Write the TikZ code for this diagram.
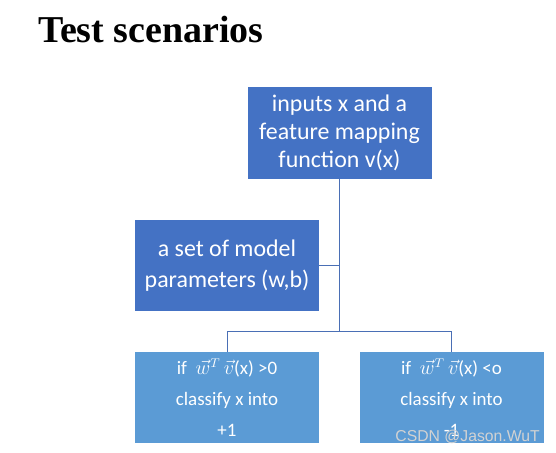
\documentclass[tikz,border=0pt]{standalone}
\usepackage{fontspec}
\setmainfont{Carlito}
\newfontfamily\titlefont{Liberation Serif}
\newfontfamily\markfont{Liberation Sans}
\usetikzlibrary{positioning}
\definecolor{darkbox}{HTML}{4472C4}
\definecolor{lightbox}{HTML}{5B9BD5}
\definecolor{linkcol}{HTML}{4A6FB5}

\begin{document}
\begin{tikzpicture}[
    box/.style={text=white, align=center, inner sep=0pt, minimum width=4.6cm, minimum height=2.28cm},
    upperbox/.style={box, fill=darkbox, font=\fontsize{17}{20}\selectfont},
    lowerbox/.style={box, fill=lightbox, font=\fontsize{13.5}{22}\selectfont},
    link/.style={draw=linkcol, line width=0.6pt}
  ]
    \useasboundingbox (0,0) rectangle (13.9,11.325);
    % Title
    \node[anchor=base west, inner sep=0pt, font=\titlefont\bfseries\fontsize{27}{30}\selectfont] (title) at (0.95,10.26) {Test scenarios};

    % Boxes
    \node[upperbox] (inputs) at (8.4875,8.0) {inputs x and a\\feature mapping\\function v(x)};
    \node[upperbox, font=\fontsize{17}{22.5}\selectfont] (params) at (5.675,4.6875) {a set of model\\parameters (w,b)};
    \node[lowerbox] (pos) at (5.675,1.3875) {if\ \ $\vec{w}^{T}\,\vec{v}$(x) >0\\classify x into\\+1};
    \node[lowerbox] (neg) at (11.2875,1.3875) {if\ \ $\vec{w}^{T}\,\vec{v}$(x) <o\\classify x into\\-1};

    % Connectors
    \coordinate (split) at (inputs.south |- 0,3.05);
    \draw[link] (inputs.south) -- (split);
    \draw[link] (params.east) -- (params.east -| split);
    \draw[link] (pos.north) |- (split) -| (neg.north);

    % Watermark
    \node[text=gray!35, font=\markfont\fontsize{11.2}{12}\selectfont] (mark) at (11.69,0.4) {CSDN @Jason.WuT};
  \end{tikzpicture}
\end{document}
